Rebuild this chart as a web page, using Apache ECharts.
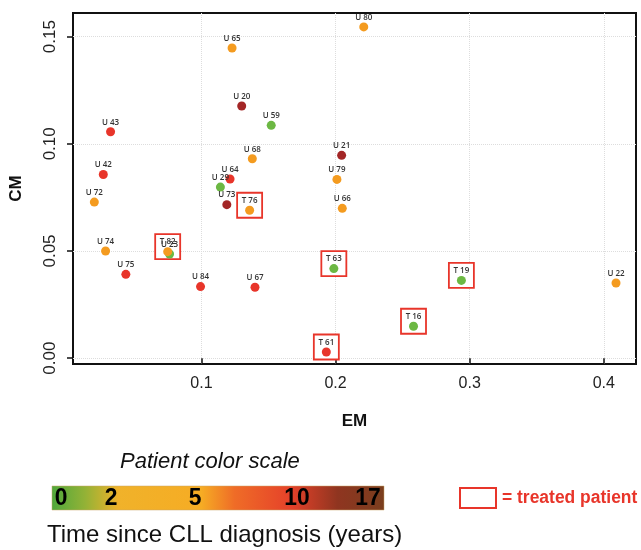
<!DOCTYPE html>
<html>
<head>
<meta charset="utf-8">
<script src="https://cdn.jsdelivr.net/npm/echarts@6/dist/echarts.min.js"></script>
<style>
  html, body { margin: 0; padding: 0; background: #fff; }
  #chart { width: 641px; height: 550px; }
</style>
</head>
<body>
<div id="chart"></div>
<script>
// Patient data (EM vs CM)
const patients = ['U 80', 'U 65', 'U 20', 'U 59', 'U 43', 'U 21', 'U 68', 'U 42', 'U 29', 'U 64',
    'U 79', 'U 72', 'U 73', 'T 76', 'U 66', 'U 74', 'U 23', 'T 82', 'U 75', 'T 63',
    'T 19', 'U 22', 'U 84', 'U 67', 'T 16', 'T 61'];
const emValues = [0.2210, 0.1228, 0.1300, 0.1520, 0.0322, 0.2045, 0.1379, 0.0268, 0.1141, 0.1213,
    0.2010, 0.0201, 0.1189, 0.1359, 0.2050, 0.0285, 0.0762, 0.0748, 0.0436, 0.1987,
    0.2938, 0.4091, 0.0993, 0.1399, 0.2581, 0.1931];
const cmValues = [0.1545, 0.1447, 0.1176, 0.1086, 0.1056, 0.0946, 0.0930, 0.0857, 0.0798, 0.0836,
    0.0834, 0.0728, 0.0716, 0.0690, 0.0699, 0.0500, 0.0486, 0.0497, 0.0391, 0.0418,
    0.0363, 0.0351, 0.0334, 0.0331, 0.0149, 0.0029];
// time since CLL diagnosis (years), estimated from the point colours
const yearsSinceDx = [4, 4, 12, 1, 7, 12, 4, 7, 1, 7,
    4, 4, 12, 4, 4, 4, 1, 4, 7, 1,
    1, 4, 7, 7, 1, 7];
const treated = patients.map(p => p.startsWith('T'));

// axis ticks and colour scale labels
const emTicks = [0.1, 0.2, 0.3, 0.4];
const cmTicks = [0, 0.05, 0.10, 0.15];
const scaleLabels = ['0', '2', '5', '10', '17'];

const GREEN = '#6cb843';
const ORANGE = '#f49b1f';
const RED = '#e8352a';
const DARKRED = '#a32626';

const points = patients.map((name, i) => [emValues[i], cmValues[i], yearsSinceDx[i], name]);
const treatedPoints = points.filter((p, i) => treated[i]);

const chart = echarts.init(document.getElementById('chart'));

// legend colour bar label positions
const scaleX = [61, 111, 195, 297, 368];

const option = {
    backgroundColor: '#fff',
    animation: false,
    grid: {
        left: 70, right: 5, top: 13, bottom: 186,
        show: true,
        borderColor: '#111',
        borderWidth: 2,
        backgroundColor: '#fff'
    },
    xAxis: {
        type: 'value',
        min: 0.0042,
        max: 0.424,
        name: 'EM',
        nameLocation: 'middle',
        nameGap: 49,
        nameTextStyle: { fontFamily: 'Liberation Sans', fontWeight: 'bold', fontSize: 17, color: '#111' },
        axisLine: { show: false },
        axisTick: { show: true, length: 6, customValues: emTicks, lineStyle: { color: '#111', width: 1.5 } },
        axisLabel: {
            customValues: emTicks,
            formatter: v => v.toFixed(1),
            fontFamily: 'Liberation Sans', fontSize: 16, color: '#222', margin: 12
        },
        splitLine: { show: true, lineStyle: { color: '#ddd', type: 'dotted', width: 1 } }
    },
    yAxis: {
        type: 'value',
        min: -0.0027,
        max: 0.161,
        name: 'CM',
        nameLocation: 'middle',
        nameGap: 48,
        nameTextStyle: { fontFamily: 'Liberation Sans', fontWeight: 'bold', fontSize: 17, color: '#111' },
        axisLine: { show: false },
        axisTick: { show: true, length: 6, customValues: cmTicks, lineStyle: { color: '#111', width: 1.5 } },
        axisLabel: {
            customValues: cmTicks,
            rotate: 90,
            formatter: v => v.toFixed(2),
            fontFamily: 'Liberation Sans', fontSize: 17, color: '#222', margin: 14
        },
        splitLine: { show: true, lineStyle: { color: '#ddd', type: 'dotted', width: 1 } }
    },
    visualMap: {
        show: false,
        type: 'piecewise',
        dimension: 2,
        seriesIndex: 1,
        pieces: [
            { gte: 0, lt: 2, color: GREEN },
            { gte: 2, lt: 5, color: ORANGE },
            { gte: 5, lt: 10, color: RED },
            { gte: 10, lte: 17, color: DARKRED }
        ]
    },
    series: [
        {
            // boxes around treated patients
            name: 'treated',
            type: 'scatter',
            data: treatedPoints,
            symbol: 'rect',
            symbolSize: [25, 25],
            symbolOffset: [0, -5],
            itemStyle: { color: '#fff', borderColor: RED, borderWidth: 1.8, opacity: 1 },
            silent: true,
            z: 2
        },
        {
            name: 'patients',
            type: 'scatter',
            data: points,
            symbolSize: 9,
            itemStyle: { opacity: 1 },
            z: 3,
            label: {
                show: true,
                position: 'top',
                distance: 1,
                formatter: p => p.data[3],
                fontFamily: 'Open Sans',
                fontWeight: 600,
                fontSize: 8,
                color: '#333'
            }
        }
    ],
    graphic: [
        {
            type: 'text', left: 218 - 98, top: 451,
            style: { text: 'Patient color scale', font: 'italic 22px "Liberation Sans"', fill: '#111' }
        },
        {
            type: 'rect',
            shape: { x: 52, y: 486, width: 332, height: 24 },
            style: {
                fill: new echarts.graphic.LinearGradient(0, 0, 1, 0, [
                    { offset: 0, color: '#4fa83c' },
                    { offset: 0.1, color: '#93b236' },
                    { offset: 0.2, color: '#f0b22a' },
                    { offset: 0.45, color: '#f6ac24' },
                    { offset: 0.55, color: '#ef6c27' },
                    { offset: 0.72, color: '#e5412a' },
                    { offset: 0.86, color: '#8f3520' },
                    { offset: 1, color: '#7a3e1e' }
                ]),
                stroke: '#c9a56a', lineWidth: 0.5
            }
        },
        ...scaleLabels.map((t, i) => ({
            type: 'text',
            x: scaleX[i], y: 498,
            scaleX: 0.95,
            style: {
                text: t, font: 'bold 24px "Liberation Sans"',
                fill: '#000', align: 'center', verticalAlign: 'middle'
            }
        })),
        {
            type: 'text', x: 47, y: 535,
            style: { text: 'Time since CLL diagnosis (years)', font: '24px "Liberation Sans"', fill: '#111', verticalAlign: 'middle' }
        },
        {
            type: 'rect',
            shape: { x: 460, y: 488, width: 36, height: 20 },
            style: { fill: '#fff', stroke: RED, lineWidth: 2 }
        },
        {
            type: 'text', x: 502, y: 498,
            scaleX: 0.97,
            style: {
                text: '= treated patient', font: 'bold 18px "Liberation Sans"',
                fill: RED, verticalAlign: 'middle'
            }
        }
    ]
};

chart.setOption(option);
</script>
</body>
</html>
